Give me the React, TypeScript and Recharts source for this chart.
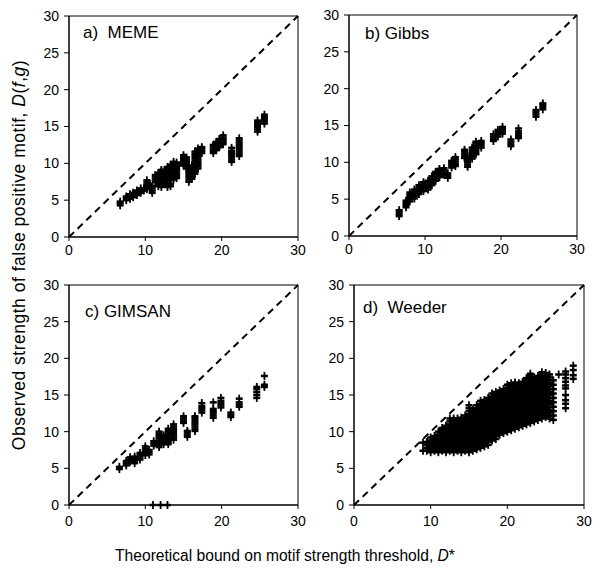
import React from 'react';
import { ScatterChart, Scatter, XAxis, YAxis, ReferenceLine, ReferenceArea } from 'recharts';

const xTicks = [0, 10, 20, 30];
const yTicks = [0, 5, 10, 15, 20, 25, 30];

// a) MEME
const memeX = [6.7, 7.5, 8.0, 8.4, 8.9, 9.4, 9.8, 10.2, 10.6, 10.9, 11.3, 11.7, 12.1, 12.5, 12.9, 13.3, 13.7, 14.1, 15.0, 15.4, 15.7, 16.1, 16.5, 16.9, 17.4, 18.9, 19.3, 19.7, 20.2, 21.3, 22.3, 24.7, 25.6];
const memeY = [
  [4.3, 4.6, 4.8],
  [5.0, 5.3, 5.5],
  [5.2, 5.5, 5.8],
  [5.4, 5.7, 6.0],
  [5.7, 6.0, 6.3],
  [6.0, 6.3, 6.6],
  [6.3, 6.6],
  [6.5, 6.8, 7.1, 7.4, 7.7],
  [6.6, 6.9, 7.2],
  [6.0, 6.3, 6.6, 6.9],
  [7.5, 7.8, 8.1, 8.4],
  [6.9, 7.2, 7.5, 7.8, 8.1, 8.4, 8.7],
  [6.8, 7.1, 7.4, 7.7, 8.0, 8.3, 8.6, 8.9, 9.1],
  [7.3, 7.6, 7.9, 8.2, 8.5, 8.8, 9.1],
  [6.8, 7.1, 7.4, 8.3, 8.6, 8.9, 9.2, 9.5],
  [6.9, 7.2, 7.7, 8.0, 8.3, 8.6, 8.9, 9.2, 9.5, 9.8],
  [7.8, 8.1, 8.4, 8.7, 9.0, 9.3, 9.6, 9.9, 10.2],
  [8.0, 8.3, 8.6, 8.9, 9.2, 9.5, 9.8, 10.1],
  [9.7, 10.0, 10.3, 10.6, 10.9, 11.1],
  [9.3, 9.6, 9.9, 10.2, 10.5, 10.8],
  [7.5, 7.8, 8.1, 8.4, 8.7, 9.0],
  [7.9, 8.2, 8.5, 8.8, 9.1, 9.4, 9.7],
  [8.6, 8.9, 9.2, 9.5, 9.8, 10.1, 10.4, 10.7, 11.0, 11.3, 11.6],
  [9.3, 9.6, 9.9, 10.2, 10.5, 10.8, 11.1, 11.4, 11.7, 12.0],
  [11.4, 11.7, 12.0, 12.2],
  [11.4, 11.7, 12.0, 12.3, 12.5],
  [11.8, 12.1, 12.4, 12.7, 12.9],
  [12.2, 12.5, 12.8, 13.1, 13.3],
  [12.6, 12.9, 13.2, 13.5, 13.8],
  [10.2, 10.5, 10.8, 11.1, 11.4, 11.7, 12.1],
  [11.0, 11.3, 11.6, 11.9, 12.2, 12.5, 12.8, 13.1, 13.4],
  [14.3, 14.6, 14.9, 15.2, 15.5, 15.8],
  [15.4, 15.7, 16.0, 16.3, 16.6],
];

// b) Gibbs
const gibbsX = [6.6, 7.5, 8.0, 8.6, 9.2, 9.8, 10.4, 10.9, 11.4, 11.9, 12.5, 13.0, 13.5, 14.0, 15.2, 15.6, 16.2, 16.7, 17.4, 19.0, 19.6, 20.2, 21.3, 22.3, 24.6, 25.5];
const gibbsY = [
  [2.7, 3.0, 3.3, 3.5],
  [3.9, 4.2, 4.5, 4.8],
  [4.7, 5.0, 5.3, 5.6, 5.9],
  [5.1, 5.4, 5.7, 6.0, 6.3],
  [5.7, 6.0, 6.3, 6.6, 6.9],
  [6.1, 6.4, 6.7, 7.0, 7.3],
  [6.3, 6.6, 6.9, 7.2, 7.5],
  [6.9, 7.2, 7.5, 7.8, 8.1],
  [7.5, 7.8, 8.1, 8.4, 8.7],
  [8.0, 8.3, 8.6, 8.9, 9.1],
  [8.3, 8.6, 8.9, 9.2],
  [7.9, 8.2, 8.5],
  [9.3, 9.6, 9.9, 10.2],
  [9.5, 9.8, 10.1, 10.4, 10.7],
  [10.6, 10.9, 11.2, 11.5, 11.7],
  [9.4, 9.7, 10.0, 10.3, 10.6, 10.9],
  [10.5, 10.8, 11.1, 11.4, 11.7, 12.0],
  [11.1, 11.4, 11.7, 12.0, 12.3, 12.6, 12.8],
  [12.0, 12.3, 12.6, 12.9],
  [12.9, 13.2, 13.5, 13.8],
  [13.5, 13.8, 14.1, 14.4],
  [13.9, 14.2, 14.5, 14.8],
  [12.2, 12.5, 12.8, 13.1],
  [13.3, 13.6, 13.9, 14.2, 14.6],
  [16.2, 16.5, 16.8, 17.1],
  [17.2, 17.5, 17.8, 18.0],
];

// c) GIMSAN
const gimsanX = [6.6, 7.5, 8.0, 8.6, 9.3, 10.0, 10.5, 11.1, 11.8, 12.4, 13.0, 13.7, 15.0, 15.5, 16.5, 17.4, 18.9, 19.9, 21.2, 22.3, 24.6, 25.6, 11.0, 12.0, 12.9];
const gimsanY = [
  [4.9, 5.2],
  [5.4, 5.7, 6.0],
  [5.9, 6.2, 6.5],
  [5.7, 6.0, 6.3, 6.6],
  [6.2, 6.5, 6.8, 7.1],
  [6.8, 7.1, 7.4, 7.7, 8.0],
  [6.9, 7.2, 7.5],
  [8.1, 8.4, 8.7],
  [7.9, 8.2, 8.5, 8.8, 9.1, 9.4, 9.7, 10.0],
  [8.3, 8.6, 8.9, 9.2, 9.5],
  [8.3, 8.6, 8.9, 9.2, 9.5, 9.8, 10.1, 10.4],
  [8.9, 9.2, 9.5, 9.8, 10.1, 10.4, 10.7, 11.0],
  [11.2, 11.5, 11.8, 12.1],
  [9.3, 9.6, 9.9, 10.1],
  [10.1, 10.4, 10.7, 11.0, 11.3, 11.6, 11.9, 12.1],
  [12.6, 12.9, 13.2, 13.5, 13.9],
  [11.9, 12.2, 12.5, 12.8, 13.1, 14.0],
  [13.3, 13.6, 13.9, 14.2, 14.6],
  [12.0, 12.3, 12.6],
  [13.4, 13.7, 14.0, 14.5],
  [14.6, 15.0, 15.4, 15.8, 16.1],
  [16.1, 16.4, 17.6],
  [0],
  [0],
  [0],
];

// d) Weeder
const weederX = [9.0, 9.5, 10.0, 10.5, 11.0, 11.5, 12.0, 12.5, 13.0, 13.5, 14.0, 14.5, 15.0, 15.5, 16.0, 16.5, 17.0, 17.5, 18.0, 18.5, 19.0, 19.5, 20.0, 20.5, 21.0, 21.5, 22.0, 22.5, 23.0, 23.5, 24.0, 24.5, 25.0, 25.5, 26.0, 26.7, 27.6, 28.6];
const weederY = [
  [7.4, 8.5],
  [7.4, 7.8, 8.2, 8.6],
  [7.2, 7.6, 8.0, 8.4, 8.8, 9.2],
  [7.4, 7.8, 8.2, 8.6, 9.0, 9.4],
  [7.2, 7.6, 8.0, 8.4, 8.8, 9.2, 9.6, 10.0],
  [7.4, 7.8, 8.2, 8.6, 9.0, 9.4, 9.8, 10.2, 10.5],
  [7.2, 7.6, 8.0, 8.4, 8.8, 9.2, 9.6, 10.0, 10.4, 10.8],
  [7.4, 7.8, 8.2, 8.6, 9.0, 9.4, 9.8, 10.2, 10.6, 11.0, 11.4, 11.8],
  [7.2, 7.6, 8.0, 8.4, 8.8, 9.2, 9.6, 10.0, 10.4, 10.8, 11.2, 11.6, 11.8],
  [7.4, 7.8, 8.2, 8.6, 9.0, 9.4, 9.8, 10.2, 10.6, 11.0, 11.4, 11.8],
  [7.2, 7.6, 8.0, 8.4, 8.8, 9.2, 9.6, 10.0, 10.4, 10.8, 11.2, 11.6, 11.9],
  [7.4, 7.8, 8.2, 8.6, 9.0, 9.4, 9.8, 10.2, 10.6, 11.0, 11.4, 11.8, 12.2],
  [7.2, 7.6, 8.0, 8.4, 8.8, 9.2, 9.6, 10.0, 10.4, 10.8, 11.2, 11.6, 12.0, 12.4, 12.8, 13.2, 13.6],
  [7.4, 7.8, 8.2, 8.6, 9.0, 9.4, 9.8, 10.2, 10.6, 11.0, 11.4, 11.8, 12.2, 12.6, 13.0],
  [7.6, 8.0, 8.4, 8.8, 9.2, 9.6, 10.0, 10.4, 10.8, 11.2, 11.6, 12.0, 12.4, 12.8, 13.2, 13.6],
  [7.8, 8.2, 8.6, 9.0, 9.4, 9.8, 10.2, 10.6, 11.0, 11.4, 11.8, 12.2, 12.6, 13.0, 13.4, 13.8, 14.2],
  [8.0, 8.4, 8.8, 9.2, 9.6, 10.0, 10.4, 10.8, 11.2, 11.6, 12.0, 12.4, 12.8, 13.2, 13.6, 14.0, 14.3],
  [8.2, 8.6, 9.0, 9.4, 9.8, 10.2, 10.6, 11.0, 11.4, 11.8, 12.2, 12.6, 13.0, 13.4, 13.8, 14.2, 14.6],
  [8.8, 9.2, 9.6, 10.0, 10.4, 10.8, 11.2, 11.6, 12.0, 12.4, 12.8, 13.2, 13.6, 14.0, 14.4, 14.8, 15.2],
  [9.0, 9.4, 9.8, 10.2, 10.6, 11.0, 11.4, 11.8, 12.2, 12.6, 13.0, 13.4, 13.8, 14.2, 14.6, 15.0, 15.4],
  [9.6, 10.0, 10.4, 10.8, 11.2, 11.6, 12.0, 12.4, 12.8, 13.2, 13.6, 14.0, 14.4, 14.8, 15.2, 15.6],
  [9.8, 10.2, 10.6, 11.0, 11.4, 11.8, 12.2, 12.6, 13.0, 13.4, 13.8, 14.2, 14.6, 15.0, 15.4, 15.8],
  [10.0, 10.4, 10.8, 11.2, 11.6, 12.0, 12.4, 12.8, 13.2, 13.6, 14.0, 14.4, 14.8, 15.2, 15.6, 16.0, 16.4],
  [10.2, 10.6, 11.0, 11.4, 11.8, 12.2, 12.6, 13.0, 13.4, 13.8, 14.2, 14.6, 15.0, 15.4, 15.8, 16.2, 16.6],
  [10.4, 10.8, 11.2, 11.6, 12.0, 12.4, 12.8, 13.2, 13.6, 14.0, 14.4, 14.8, 15.2, 15.6, 16.0, 16.4, 16.7],
  [10.6, 11.0, 11.4, 11.8, 12.2, 12.6, 13.0, 13.4, 13.8, 14.2, 14.6, 15.0, 15.4, 15.8, 16.2, 16.6],
  [10.8, 11.2, 11.6, 12.0, 12.4, 12.8, 13.2, 13.6, 14.0, 14.4, 14.8, 15.2, 15.6, 16.0, 16.4, 16.8],
  [11.0, 11.4, 11.8, 12.2, 12.6, 13.0, 13.4, 13.8, 14.2, 14.6, 15.0, 15.4, 15.8, 16.2, 16.6, 17.0, 17.3],
  [11.2, 11.6, 12.0, 12.4, 12.8, 13.2, 13.6, 14.0, 14.4, 14.8, 15.2, 15.6, 16.0, 16.4, 16.8, 17.2, 17.6, 17.9],
  [11.4, 11.8, 12.2, 12.6, 13.0, 13.4, 13.8, 14.2, 14.6, 15.0, 15.4, 15.8, 16.2, 16.6, 17.0, 17.4],
  [11.6, 12.0, 12.4, 12.8, 13.2, 13.6, 14.0, 14.4, 14.8, 15.2, 15.6, 16.0, 16.4, 16.8, 17.2, 17.6],
  [11.8, 12.2, 12.6, 13.0, 13.4, 13.8, 14.2, 14.6, 15.0, 15.4, 15.8, 16.2, 16.6, 17.0, 17.4, 17.8, 18.1],
  [12.0, 12.4, 12.8, 13.2, 13.6, 14.0, 14.4, 14.8, 15.2, 15.6, 16.0, 16.4, 16.8, 17.2, 17.6, 18.0],
  [11.8, 12.2, 12.6, 13.0, 13.4, 13.8, 14.2, 14.6, 15.0, 15.4, 15.8, 16.2, 16.6, 17.0, 17.4, 17.8],
  [11.6, 12.2, 12.8, 13.4, 14.0, 14.6, 15.2, 15.8, 16.4, 17.0],
  [17.8],
  [13.2, 13.8, 14.3, 15.0, 15.9, 16.3, 16.8, 17.3, 17.8, 18.2],
  [17.2, 17.7, 18.4, 19.0],
];

const toPoints = (xs: number[], ys: number[][]) =>
  xs.flatMap((x, i) => ys[i].map((y) => ({ x, y })));

const FONT = '"Liberation Sans", Arial, Helvetica, sans-serif';

const Plus = (props: any) => {
  const { cx, cy } = props;
  if (cx == null || cy == null) return null;
  return (
    <g>
      <path d={`M${cx - 3.5},${cy}h7`} stroke="#000" strokeWidth={2.5} fill="none" />
      <path d={`M${cx},${cy - 4}v8`} stroke="#000" strokeWidth={1.8} fill="none" />
    </g>
  );
};

type PanelProps = {
  data: { x: number; y: number }[];
  left: number;
  top: number;
  w: number;
  h: number;
  xTickMargin: number;
};

function Panel({ data, left, top, w, h, xTickMargin }: PanelProps) {
  return (
    <div style={{ position: 'absolute', left: left - 50, top: top - 10 }}>
      <ScatterChart width={w + 60} height={h + 45} margin={{ top: 10, right: 10, left: 10, bottom: 5 }}>
        <XAxis
          type="number"
          dataKey="x"
          domain={[0, 30]}
          ticks={xTicks}
          interval={0}
          height={30}
          tickSize={4}
          tickMargin={xTickMargin}
          stroke="#000"
          tick={{ fill: '#000', fontSize: 14, fontFamily: FONT }}
        />
        <YAxis
          type="number"
          dataKey="y"
          domain={[0, 30]}
          ticks={yTicks}
          interval={0}
          width={40}
          tickSize={5}
          tickMargin={5}
          stroke="#000"
          tick={{ fill: '#000', fontSize: 14, fontFamily: FONT }}
        />
        <ReferenceArea x1={0} x2={30} y1={0} y2={30} fill="none" fillOpacity={0} stroke="#000" strokeWidth={1} />
        <ReferenceLine
          segment={[{ x: 0, y: 0 }, { x: 30, y: 30 }]}
          stroke="#000"
          strokeWidth={2}
          strokeDasharray="7 5"
        />
        <Scatter data={data} shape={Plus} isAnimationActive={false} />
      </ScatterChart>
    </div>
  );
}

export default function App() {
  return (
    <div style={{ position: 'absolute', left: 0, top: 0, width: 600, height: 577, background: '#fff', fontFamily: FONT }}>
      <Panel data={toPoints(memeX, memeY)} left={69} top={16} w={229} h={221} xTickMargin={4} />
      <Panel data={toPoints(gibbsX, gibbsY)} left={349} top={15} w={228} h={221} xTickMargin={4} />
      <Panel data={toPoints(gimsanX, gimsanY)} left={69} top={285} w={229} h={220} xTickMargin={7} />
      <Panel data={toPoints(weederX, weederY)} left={354} top={285} w={230} h={220} xTickMargin={7} />
      <svg
        width={600}
        height={577}
        style={{ position: 'absolute', left: 0, top: 0, pointerEvents: 'none' }}
        fontFamily={FONT}
      >
        <text x={83} y={38} fontSize={17} xmlSpace="preserve" style={{ whiteSpace: 'pre' }}>a)  MEME</text>
        <text x={365} y={39} fontSize={17} xmlSpace="preserve" style={{ whiteSpace: 'pre' }}>b) Gibbs</text>
        <text x={85} y={317} fontSize={17} xmlSpace="preserve" style={{ whiteSpace: 'pre' }}>c) GIMSAN</text>
        <text x={363} y={313} fontSize={17} xmlSpace="preserve" style={{ whiteSpace: 'pre' }}>d)  Weeder</text>
        <text x={285} y={561} fontSize={15.6} textAnchor="middle">
          Theoretical bound on motif strength threshold, <tspan fontStyle="italic">D</tspan>*
        </text>
        <text x={0} y={0} fontSize={17.5} letterSpacing={0.5} textAnchor="middle" transform="translate(25,255) rotate(-90)">
          Observed strength of false positive motif, <tspan fontStyle="italic">D</tspan>(<tspan fontStyle="italic">f</tspan>,<tspan fontStyle="italic">g</tspan>)
        </text>
      </svg>
    </div>
  );
}
